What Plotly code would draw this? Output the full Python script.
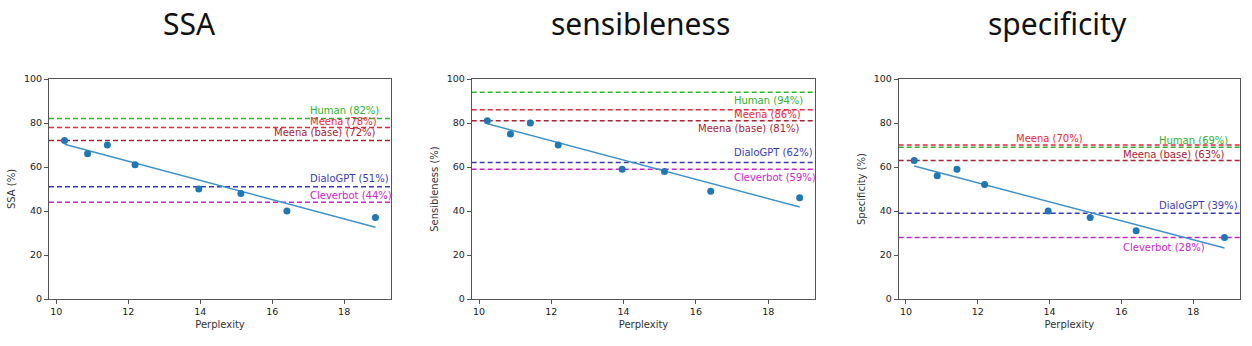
import numpy as np
import plotly.graph_objects as go

# ---- data ----
perplexity = [10.23, 10.87, 11.42, 12.19, 13.96, 15.13, 16.41, 18.87]
ssa = [72, 66, 70, 61, 50, 48, 40, 37]
sensibleness = [81, 75, 80, 70, 59, 58, 49, 46]
specificity = [63, 56, 59, 52, 40, 37, 31, 28]

baseline_names = ["Human", "Meena", "Meena (base)", "DialoGPT", "Cleverbot"]
ssa_baselines = [82, 78, 72, 51, 44]
sens_baselines = [94, 86, 81, 62, 59]
spec_baselines = [69, 70, 63, 39, 28]

panel_titles = ["SSA", "sensibleness", "specificity"]
y_titles = ["SSA (%)", "Sensibleness (%)", "Specificity (%)"]
x_title = "Perplexity"

# ---- styling ----
baseline_colors = ["#30b030", "#e8283c", "#aa2436", "#3c3cb0", "#c828c8"]
# label placement per panel: (x anchor in data units, vertical shift px)
label_layout = [
    [(17, 8), (17, 6), (16, 8), (17, 8.5), (17, 7)],
    [(17, -8), (17, -4.5), (16, -8), (17, 10), (17, -8)],
    [(17, 7), (13, 7), (16, 6), (17, 7.5), (16, -10)],
]

W, H = 1252, 346
x_dom_px = [(49, 391), (471.7, 815.3), (898.7, 1240)]
y_dom_px = (79, 299)
title_cx = [189, 640, 1057]

series = [ssa, sensibleness, specificity]
baselines = [ssa_baselines, sens_baselines, spec_baselines]

fig = go.Figure()
x_arr = np.array(perplexity)
span = x_arr.max() - x_arr.min()
x_range = [x_arr.min() - 0.05 * span, x_arr.max() + 0.05 * span]

annotations = []
for i in range(3):
    xa = "x" if i == 0 else f"x{i+1}"
    ya = "y" if i == 0 else f"y{i+1}"
    # baselines
    for j, (name, val) in enumerate(zip(baseline_names, baselines[i])):
        fig.add_trace(go.Scatter(
            x=x_range, y=[val, val], mode="lines", xaxis=xa, yaxis=ya,
            line=dict(color=baseline_colors[j], width=1.5, dash="5px,3px"),
            showlegend=False, hoverinfo="skip"))
        lx, shift = label_layout[i][j]
        annotations.append(dict(
            x=lx, y=val, xref=xa, yref=ya, text=f"{name} ({val}%)",
            showarrow=False, xanchor="left", yanchor="middle", yshift=shift,
            font=dict(family="DejaVu Sans", size=10, color=baseline_colors[j])))
    # fit line
    y_arr = np.array(series[i], dtype=float)
    m, b = np.polyfit(x_arr, y_arr, 1)
    fx = np.array([x_arr.min(), x_arr.max()])
    fig.add_trace(go.Scatter(
        x=fx, y=m * fx + b, mode="lines", xaxis=xa, yaxis=ya,
        line=dict(color="#3f91c8", width=1.5), showlegend=False))
    # points
    fig.add_trace(go.Scatter(
        x=perplexity, y=series[i], mode="markers", xaxis=xa, yaxis=ya,
        marker=dict(color="#1f77b4", size=7), showlegend=False))
    # title
    annotations.append(dict(
        x=title_cx[i] / W, y=1 - 23 / H, xref="paper", yref="paper",
        text=panel_titles[i], showarrow=False, xanchor="center", yanchor="middle",
        font=dict(family="Noto Sans", size=30, color="#111111")))

    axis_common = dict(showline=True, mirror=True, linecolor="#555555", linewidth=1,
                       ticks="outside", ticklen=4, tickcolor="#555555", showgrid=False,
                       zeroline=False, automargin=False,
                       tickfont=dict(family="DejaVu Sans", size=9.5, color="#222222"))
    x0, x1 = x_dom_px[i]
    fig.update_layout(**{
        ("xaxis" if i == 0 else f"xaxis{i+1}"): dict(
            domain=[x0 / W, x1 / W], range=x_range, anchor=ya,
            tickvals=[10, 12, 14, 16, 18],
            title=dict(text=x_title, standoff=4,
                       font=dict(family="DejaVu Sans", size=10, color="#333333")),
            **axis_common),
        ("yaxis" if i == 0 else f"yaxis{i+1}"): dict(
            domain=[1 - y_dom_px[1] / H, 1 - y_dom_px[0] / H], range=[0, 100], anchor=xa,
            tickvals=[0, 20, 40, 60, 80, 100],
            title=dict(text=y_titles[i], standoff=6,
                       font=dict(family="DejaVu Sans", size=10, color="#333333")),
            **axis_common),
    })

fig.update_layout(
    width=W, height=H, margin=dict(l=0, r=0, t=0, b=0),
    paper_bgcolor="white", plot_bgcolor="white",
    annotations=annotations, showlegend=False)

fig.write_html("out.html")
